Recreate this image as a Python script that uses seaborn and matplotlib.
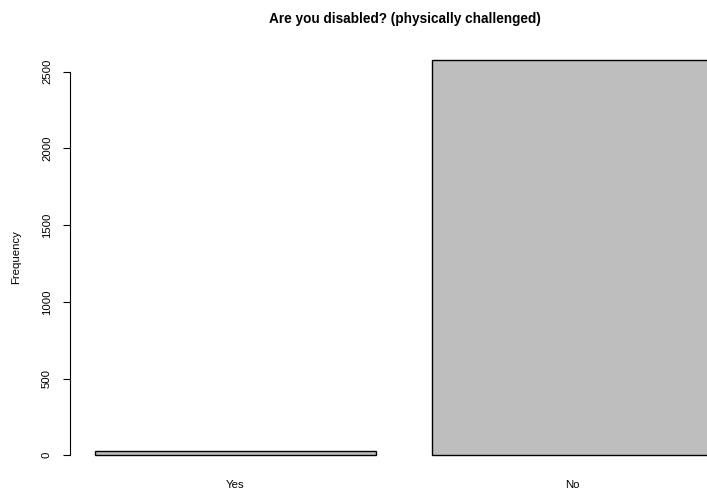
import matplotlib
matplotlib.use("Agg")
import matplotlib.pyplot as plt
import seaborn as sns
import pandas as pd

categories = ["Yes", "No"]
counts = [28, 2578]
yticks = [0, 500, 1000, 1500, 2000, 2500]

sns.set_style("white")
plt.rcParams["font.family"] = ["Liberation Sans", "DejaVu Sans"]
plt.rcParams["text.color"] = "black"
plt.rcParams["xtick.color"] = "black"
plt.rcParams["ytick.color"] = "black"
plt.rcParams["axes.labelcolor"] = "black"

df = pd.DataFrame({"answer": categories, "count": counts})

fig = plt.figure(figsize=(7.07, 4.91), dpi=100)
ax = fig.add_axes([70 / 707, 20 / 491, 668 / 707, 427 / 491])
sns.barplot(data=df, x="answer", y="count", order=categories, color="#bebebe",
            saturation=1, width=1 / 1.2, edgecolor="black", linewidth=1, ax=ax)

ax.set_xlim(-0.49, 1.49)
ax.set_ylim(-0.04 * max(counts), 1.04 * max(counts))
for s in ["top", "right", "bottom"]:
    ax.spines[s].set_visible(False)
ax.spines["left"].set_bounds(0, 2500)
ax.spines["left"].set_color("black")
ax.spines["left"].set_linewidth(0.8)
ax.set_yticks(yticks)
ax.set_yticklabels([str(v) for v in yticks], rotation=90, va="center", fontsize=8.2)
ax.tick_params(axis="y", left=True, length=5, width=0.8, pad=8)
ax.tick_params(axis="x", bottom=False, pad=3, labelsize=8.2)
ax.set_xlabel("")
ax.set_ylabel("Frequency", fontsize=8.2, labelpad=15)
fig.text(405 / 707, 1 - 19 / 491, "Are you disabled? (physically challenged)",
         ha="center", va="center", fontsize=9.8, fontweight="bold")
fig.savefig("out.png", dpi=100)
